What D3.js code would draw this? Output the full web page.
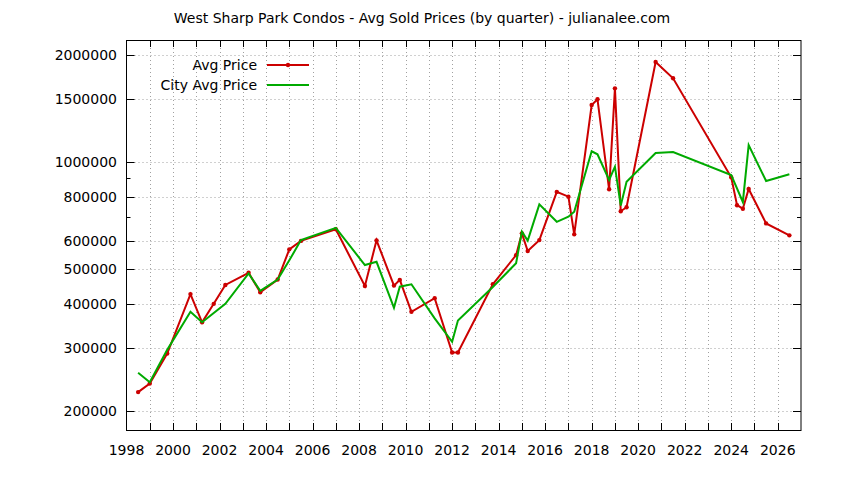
<!DOCTYPE html>
<html><head><meta charset="utf-8">
<script src="https://cdn.jsdelivr.net/npm/d3@7/dist/d3.min.js"></script>
<style>body{margin:0;background:#fff}svg{display:block}text{font-family:"DejaVu Sans",sans-serif;font-size:14px;fill:#000}</style>
</head><body><svg id="c" width="844" height="480"></svg>
<script>
const title = "West Sharp Park Condos - Avg Sold Prices (by quarter) - julianalee.com";
const seriesNames = ["Avg Price", "City Avg Price"];
const avgYears = [1998.5,1999.0,1999.75,2000.75,2001.25,2001.75,2002.25,2003.25,2003.75,2004.5,2005.0,2005.5,2007.0,2008.25,2008.75,2009.5,2009.75,2010.25,2011.25,2012.0,2012.25,2013.75,2014.75,2015.0,2015.25,2015.75,2016.5,2017.0,2017.25,2018.0,2018.25,2018.75,2019.0,2019.25,2019.5,2020.75,2021.5,2024.0,2024.25,2024.5,2024.75,2025.5,2026.5];
const avgPrice = [226000,239000,290000,426000,355000,400000,452000,489000,431000,468000,569000,601000,648000,449000,603000,450000,467000,380000,415000,292000,292000,454000,548000,631000,563000,604000,825000,800000,627000,1447000,1502000,839000,1612000,728000,747000,1911000,1720000,907000,757000,740000,841000,673000,623000];
const cityYears = [1998.5,1999.0,1999.75,2000.75,2001.25,2002.25,2003.25,2003.75,2004.5,2005.0,2005.5,2007.0,2008.25,2008.75,2009.5,2009.75,2010.25,2011.25,2012.0,2012.25,2013.75,2014.75,2015.0,2015.25,2015.75,2016.5,2017.0,2017.25,2018.0,2018.25,2018.75,2019.0,2019.25,2019.5,2020.75,2021.5,2024.0,2024.5,2024.75,2025.5,2026.5];
const cityPrice = [256000,241000,297000,380000,355000,400000,487000,435000,468000,530000,604000,654000,514000,525000,390000,447000,454000,364000,313000,359000,446000,520000,638000,602000,761000,680000,703000,726000,1073000,1052000,891000,971000,755000,881000,1061000,1068000,920000,773000,1117000,885000,925000];
const yTickValues = [200000,300000,400000,500000,600000,800000,1000000,1500000,2000000];
const yMinorValues = [700000,900000];
const xLabelYears = [1998,2000,2002,2004,2006,2008,2010,2012,2014,2016,2018,2020,2022,2024,2026];
const xDomain = [1998, 2027];

const L = 126.5, R = 801, T = 40, B = 430;
const svg = d3.select("#c");
const x = d3.scaleLinear().domain(xDomain).range([L, R]);
const y = d3.scaleLog().domain([200000, 2000000]).range([411, 55]);
const yearTicks = d3.range(xDomain[0] + 1, xDomain[1]);

// title
svg.append("text").attr("x", 422).attr("y", 23).attr("text-anchor", "middle").text(title);

// grid
const g = svg.append("g").attr("stroke", "#a0a0a0").attr("stroke-width", 1).attr("stroke-dasharray", "1,3");
g.selectAll("line.v").data(yearTicks).join("line")
  .attr("x1", d => Math.round(x(d)) + 0.5).attr("x2", d => Math.round(x(d)) + 0.5)
  .attr("y1", T).attr("y2", B);
g.selectAll("line.h").data(yTickValues).join("line")
  .attr("x1", L).attr("x2", R)
  .attr("y1", d => Math.round(y(d)) + 0.5).attr("y2", d => Math.round(y(d)) + 0.5);

// ticks
const tk = svg.append("g").attr("stroke", "#000").attr("stroke-width", 1);
yearTicks.forEach(d => {
  const xx = Math.round(x(d)) + 0.5;
  tk.append("line").attr("x1", xx).attr("x2", xx).attr("y1", B).attr("y2", B - 7);
  tk.append("line").attr("x1", xx).attr("x2", xx).attr("y1", T).attr("y2", T + 7);
});
yTickValues.forEach(d => {
  const yy = Math.round(y(d)) + 0.5;
  tk.append("line").attr("x1", L).attr("x2", L + 8).attr("y1", yy).attr("y2", yy);
  tk.append("line").attr("x1", R).attr("x2", R - 8).attr("y1", yy).attr("y2", yy);
});
yMinorValues.forEach(d => {
  const yy = Math.round(y(d)) + 0.5;
  tk.append("line").attr("x1", L).attr("x2", L + 4).attr("y1", yy).attr("y2", yy);
  tk.append("line").attr("x1", R).attr("x2", R - 4).attr("y1", yy).attr("y2", yy);
});

// labels
svg.append("g").selectAll("text").data(yTickValues).join("text")
  .attr("x", 117).attr("y", d => y(d) + 5).attr("text-anchor", "end").text(d => String(d));
svg.append("g").selectAll("text").data(xLabelYears).join("text")
  .attr("x", d => x(d)).attr("y", 455).attr("text-anchor", "middle").text(d => String(d));

// border
svg.append("rect").attr("x", L).attr("y", T + 0.5).attr("width", R - L).attr("height", B - T)
  .attr("fill", "none").attr("stroke", "#000").attr("stroke-width", 1);

// series
const redC = "#cc0000", greenC = "#00aa00";
const avgData = avgYears.map((yr, i) => [yr, avgPrice[i]]);
const cityData = cityYears.map((yr, i) => [yr, cityPrice[i]]);
const line = d3.line().x(d => x(d[0])).y(d => y(d[1]));
svg.append("path").datum(avgData).attr("d", line).attr("fill", "none").attr("stroke", redC).attr("stroke-width", 2).attr("stroke-linejoin", "miter");
svg.append("g").selectAll("circle").data(avgData).join("circle")
  .attr("cx", d => x(d[0])).attr("cy", d => y(d[1])).attr("r", 2.2).attr("fill", redC);
svg.append("path").datum(cityData).attr("d", line).attr("fill", "none").attr("stroke", greenC).attr("stroke-width", 2).attr("stroke-linejoin", "miter");

// legend
const lg = svg.append("g");
[[seriesNames[0], redC, 65, true], [seriesNames[1], greenC, 85, false]].forEach(([name, col, yy, pt]) => {
  lg.append("text").attr("x", 257).attr("y", yy + 5).attr("text-anchor", "end").text(name);
  lg.append("line").attr("x1", 267).attr("x2", 309).attr("y1", yy).attr("y2", yy).attr("stroke", col).attr("stroke-width", 2);
  if (pt) lg.append("circle").attr("cx", 288).attr("cy", yy).attr("r", 2.2).attr("fill", col);
});
</script></body></html>
